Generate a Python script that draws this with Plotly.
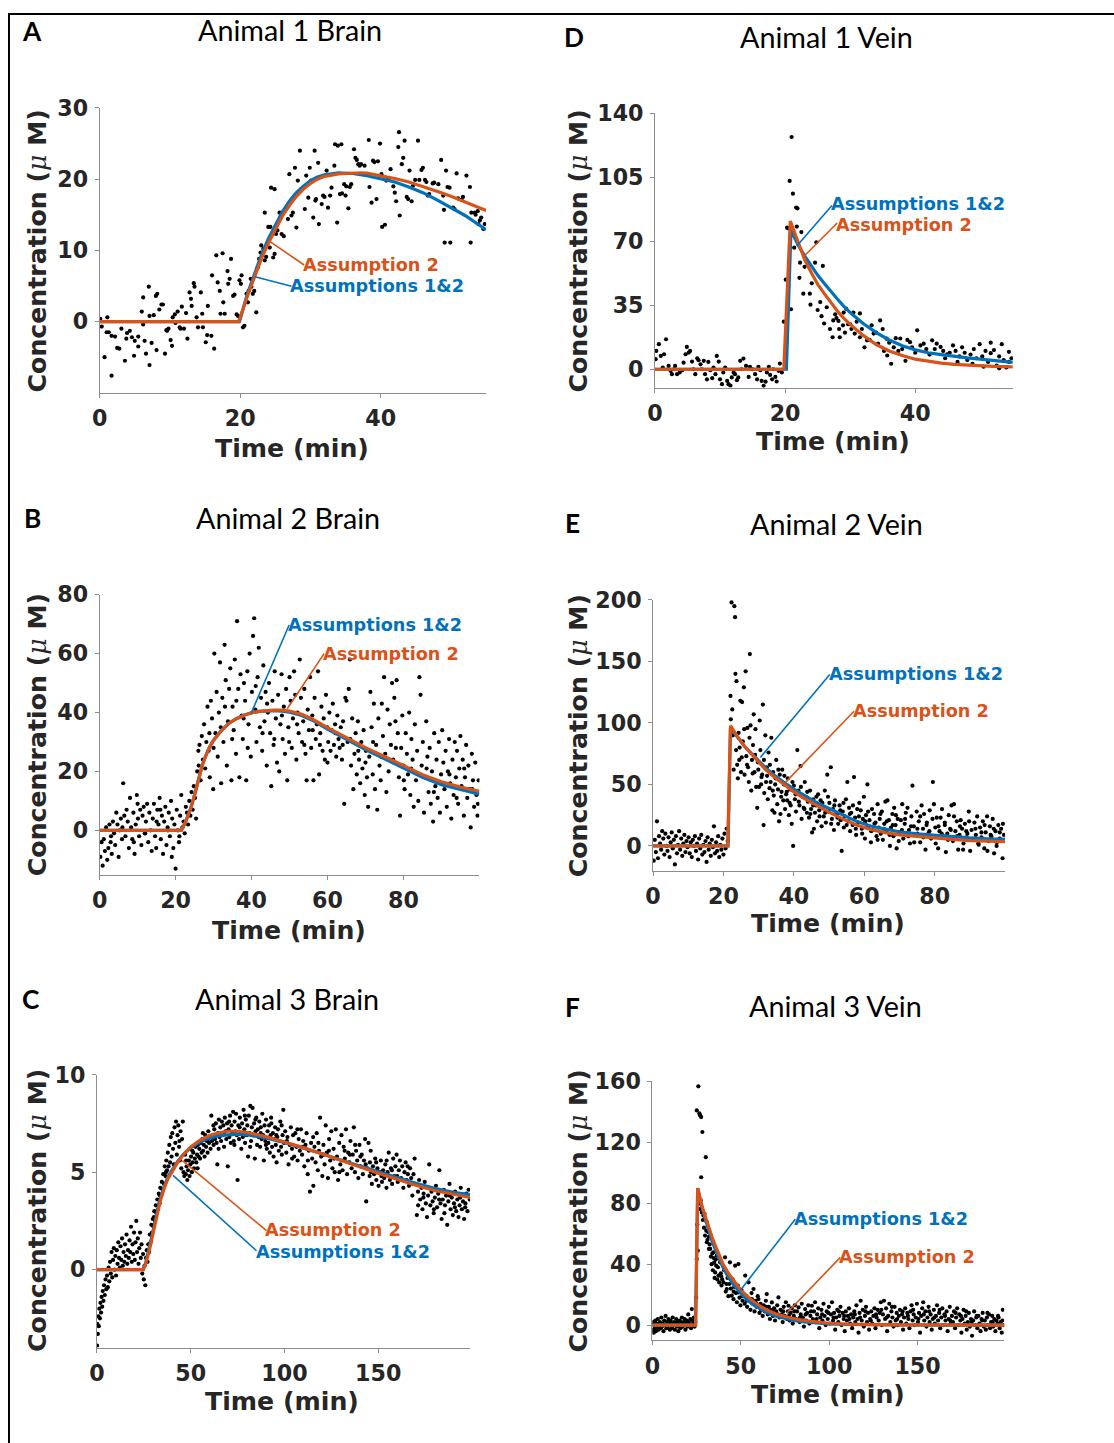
import plotly.graph_objects as go

# Figure canvas; page positions (in page pixels) are
# mapped into the canvas with the offset/scale the page photograph applies.
FW, FH = 1114, 1443
OX, OY, SC = 8.5, 12.0, 0.9915
BLUE = "#0072BD"
ORANGE = "#D95319"
AXC = "#8c8c8c"
TXT = "#262626"

# ---------------- data ----------------
# Panel A: Animal 1 Brain  [time (min), concentration (uM)]
a_points = [[0.1,0.4],[0.3,-0.7],[0.7,-5.0],[1.1,0.6],[1.0,-1.5],[1.3,-1.5],[1.7,-2.0],[1.7,-7.6],[2.2,-2.1],[2.5,-3.7],[2.8,-3.8],[3.1,-1.0],[3.6,-5.5],[3.8,-2.4],[3.9,-1.6],[4.3,-1.3],[4.6,-2.2],[5.0,-2.7],[4.9,-4.8],[5.5,-2.1],[5.5,-3.5],[6.0,1.4],[6.2,3.4],[6.2,-0.4],[6.4,-2.7],[6.6,-4.5],[7.0,4.9],[7.1,-6.1],[7.1,0.8],[7.4,-3.0],[7.7,0.9],[8.0,3.6],[8.2,3.9],[8.1,-4.0],[8.5,1.7],[8.8,2.4],[9.0,2.4],[9.3,-4.5],[9.5,-1.2],[9.6,-1.3],[9.8,-1.0],[10.1,-2.6],[10.3,-3.4],[10.4,0.6],[10.7,1.0],[10.8,-0.2],[11.1,1.4],[11.4,-0.8],[11.5,-1.0],[11.7,2.1],[12.0,-1.0],[12.3,1.2],[12.5,-2.4],[12.8,4.1],[13.0,3.2],[13.1,2.2],[13.4,5.4],[13.5,4.9],[13.8,0.6],[14.0,-0.8],[14.4,4.1],[14.6,1.1],[14.7,-0.8],[15.1,-2.9],[15.3,-1.9],[15.4,2.2],[15.9,-2.0],[16.0,6.5],[16.3,-3.8],[16.6,9.3],[16.8,5.5],[17.1,4.3],[17.2,1.1],[17.5,9.6],[17.6,2.7],[17.8,1.1],[18.2,7.1],[18.3,5.3],[18.5,6.0],[18.7,8.8],[19.0,3.6],[19.2,3.8],[19.5,1.0],[19.7,0.8],
[19.9,5.8],[20.1,5.3],[20.2,6.5],[20.4,-0.8],[20.6,-0.6],[20.9,3.9],[21.1,2.7],[21.2,4.3],[21.6,4.9],[21.5,6.0],[21.8,3.9],[22.0,4.3],[22.3,1.3],[22.5,7.6],[22.7,8.8],[22.9,9.7],[23.0,10.7],[23.3,10.2],[23.5,8.6],[23.5,15.3],[23.7,9.1],[24.0,13.3],[24.2,10.4],[24.3,13.3],[24.7,9.0],[24.9,9.5],[25.1,12.3],
[24.4,18.8],[24.9,18.6],[25.3,12.8],[25.6,15.3],[25.9,12.3],[26.2,12.0],[26.6,16.0],[26.8,14.4],[27.0,20.7],[27.3,14.9],[27.5,15.3],[27.8,21.6],[28.0,13.2],[28.2,19.8],[28.5,24.0],[28.7,18.6],[29.2,15.8],[29.4,20.5],[29.7,17.4],[29.9,21.6],[30.1,19.8],[30.4,14.6],[30.6,24.0],[30.7,17.0],[30.8,17.2],[31.1,22.3],[31.2,13.7],[31.6,16.5],[31.8,17.7],[32.0,17.5],[32.3,21.2],[32.5,16.0],[32.8,17.7],[33.0,18.8],[33.4,21.9],[33.5,24.9],[33.8,13.9],[33.9,24.7],[34.2,17.9],[34.4,24.9],[34.5,18.0],[34.8,19.3],[35.0,17.7],[35.1,19.0],[35.4,15.9],[35.6,18.9],[35.8,19.3],[36.2,24.2],[36.4,23.0],[36.6,22.7],[36.8,22.1],[37.0,21.9],[37.2,22.1],[37.5,20.7],[37.7,21.9],[38.3,25.5],[38.4,18.9],[38.7,16.7],[38.9,22.6],[39.1,22.4],[39.4,17.2],[39.6,22.5],[39.9,25.0],
[40.1,20.7],[40.2,13.3],[40.6,13.6],[40.8,19.8],[41.1,20.0],[41.4,21.4],[41.8,19.0],[42.0,18.1],[42.2,16.9],[42.5,24.5],[42.6,26.6],[42.7,14.9],[43.0,22.1],[43.2,23.0],[43.4,25.4],[43.7,17.5],[43.9,17.2],[44.1,21.2],[44.4,16.9],[44.6,19.1],[44.9,19.9],[45.3,25.4],[45.5,19.9],[45.8,21.3],[46.0,21.6],[46.3,19.9],[46.5,19.6],[46.7,17.7],[46.9,17.9],[47.4,19.4],[47.6,19.5],[48.2,19.3],[48.6,22.7],[48.9,17.7],[49.0,15.7],[49.3,21.2],[49.5,18.9],[49.8,18.8],[49.1,11.1],[49.9,11.1],[50.3,16.0],[50.5,15.8],[50.8,20.8],[51.0,17.3],[51.5,17.1],[51.7,17.5],[52.2,20.5],[52.7,18.9],[52.8,11.1],[52.9,15.3],[53.4,15.3],[53.5,15.0],[53.8,15.5],[53.9,13.7],[54.1,14.2],[54.3,14.6],[54.6,13.0],[54.8,13.7]]
a_fit12_t = [0, 19.9, 21, 22, 23, 24, 25, 26, 27, 28, 29, 30, 31, 32, 34, 36, 38, 40, 42, 44, 46, 48, 50, 52, 55]
a_fit12_c = [0, 0, 3.8, 6.6, 9.3, 11.6, 13.6, 15.4, 16.9, 18.1, 19.0, 19.8, 20.3, 20.6, 20.9, 20.8, 20.5, 20.1, 19.6, 18.9, 18.1, 17.1, 16.0, 14.9, 12.9]
a_fit2_t = [0, 19.8, 21, 22, 23, 24, 25, 26, 27, 28, 29, 30, 31, 32, 34, 36, 37.2, 38, 40, 42, 44, 46, 48, 50, 52, 55]
a_fit2_c = [0, 0, 3.5, 6.2, 8.8, 11.0, 13.0, 14.8, 16.3, 17.6, 18.6, 19.4, 20.0, 20.4, 20.75, 20.9, 20.9, 20.85, 20.5, 20.1, 19.6, 19.0, 18.3, 17.6, 16.8, 15.6]
a_xticks = [0, 20, 40]
a_yticks = [0, 10, 20, 30]

# Panel D: Animal 1 Vein
d_points = [[0.1,5.5],[0.2,10],[0.6,13.7],[0.9,7.3],[1.2,0.9],[1.4,8.2],[1.7,16.4],[2.1,1.8],[2.4,-0.9],[2.6,-2.7],[2.9,0],[3.1,1.8],[3.4,-2.7],[3.8,-1.8],[4.2,-0.5],[4.4,3.6],[4.7,8.2],[4.9,12.2],[5.2,9.1],[5.4,10],[5.7,4.2],[5.9,0],[6.2,-2.7],[6.5,6],[6.7,4.9],[7.0,2.7],[7.2,0],[7.5,4.6],[7.7,-2.7],[8.0,-5.5],[8.2,4.0],[8.5,-0.5],[8.8,-4.9],[9.0,0.9],[9.3,-2.7],[9.5,7.3],[9.8,4.2],[10.0,-5.5],[10.3,-8.2],[10.5,-1.8],[10.8,0.9],[11.1,-6.4],[11.3,-8.2],[11.6,-9.0],[11.8,-4.5],[12.1,-1.8],[12.3,-2.7],[12.6,-6.0],[12.8,-4.5],[13.1,4.6],[13.3,0],[13.6,5.8],[14.0,1.8],[14.4,-4.2],[14.6,1.3],[15.0,0],[15.4,-2.7],[15.7,-5.5],[15.9,1.3],[16.2,-0.5],[16.4,-6.4],[16.7,-9.1],[17.0,-6.8],[17.2,-1.8],[17.5,1.3],[17.7,-3.1],[18.0,-5.5],[18.2,0],[18.5,-4.2],[18.7,-6.7],[19.0,-0.9],[19.2,3.1],[19.5,-1.8],
[19.8,26],[20.1,49],[20.3,77.4],[20.5,77],[20.7,103],[20.9,32.8],[21.0,127],[21.2,96],[21.4,66.5],[21.7,88.4],[21.9,88],[21.8,78],[22.5,75],[22.3,58.3],[22.2,50],[22.8,41.3],[23.0,56],[23.8,41.3],[24.1,47],[23.9,35.3],[24.6,58.3],[24.8,69.4],[25.0,32.4],[25.4,36.7],[25.6,29],[25.8,56.5],[26.0,25],[26.4,33.9],[26.9,22],[27.4,26.7],[27.3,17.5],[27.7,30],[27.9,28],[28.2,26.4],[28.4,17.5],[28.3,22],[28.9,24],[29.0,31],[29.2,20],[29.4,33],[29.7,24.6],[30.0,24.6],[30.2,22],[30.5,31],[30.7,19.5],[31.0,26],[31.5,30.5],[31.5,17.5],[31.8,22],[32.2,12],[32.6,15.8],[33.0,16],[33.3,24],[33.6,19.5],[34.0,20],[34.3,14],[34.6,26.7],[35.0,22],[35.2,10],[35.6,16.7],[35.7,7.5],[36.0,14.5],[36.3,3],[36.7,12],[37.0,17],[37.4,10],[37.7,16.8],[38.0,11],[38.5,4.6],[38.8,16],[39.2,14.8],[39.5,12],[40.0,9],[40.3,21.3],[40.8,13],[41.3,14],[41.7,11],[42.2,8],[42.6,15.8],[43.0,11],[43.3,14],[43.9,12.2],[44.3,10],[44.6,6],[44.9,8.2],[45.3,9],[45.8,13],[46.2,10],[46.5,4],[46.8,7],[47.2,12],[47.6,9],[48.0,5],[48.5,8],[48.8,3],[49.0,11],[49.4,6],[49.9,13.7],[50.3,7],[50.5,1.4],[50.8,10],[51.2,4],[51.6,14.5],[51.6,8.8],[52.1,10.5],[52.5,2],[52.9,7],[52.9,0.5],[53.3,13.7],[53.6,5],[54.0,1],[54.4,9.5],[54.4,4],[54.8,6]]
d_fit12_t = [0, 20.2, 20.9, 22, 23, 24, 25, 26, 27, 28, 29, 30, 32, 34, 36, 38, 40, 42, 44, 46, 48, 50, 52, 55]
d_fit12_c = [0, 0, 76, 68, 62, 56.5, 51.5, 47, 42.5, 38.5, 34.5, 31, 25, 20, 16, 12.8, 10.6, 9, 8, 7, 6.2, 5.5, 4.7, 3.7]
d_fit2_t = [0, 19.8, 20.8, 22, 23, 24, 25, 26, 27, 28, 29, 30, 32, 34, 36, 38, 40, 42, 44, 46, 48, 50, 52, 55]
d_fit2_c = [0, 0, 81, 69, 60, 53, 46.5, 41.5, 36.5, 32, 28, 24.5, 18.5, 13.5, 10, 7.5, 5.5, 4.3, 3.3, 2.7, 2.2, 1.9, 1.6, 1.3]
d_xticks = [0, 20, 40]
d_yticks = [0, 35, 70, 105, 140]

# Panel B: Animal 2 Brain
b_points = [[0.2,-9],[0.5,-4],[0.8,-12],[1.1,-3],[1.4,-7],[1.7,1],[2.0,-10],[2.3,-6],[2.6,2],[2.9,-4],[3.2,-8],[3.5,3],[3.8,-1],[4.1,-5],[4.4,6],[4.7,2],[5.0,-9],[5.3,0],[5.6,4],[5.9,-3],[6.2,16],[6.5,5],[6.8,-2],[7.1,7],[7.4,3],[7.7,-6],[8.0,11],[8.3,1],[8.6,-3],[8.9,6],[9.2,-8],[9.5,2],[9.8,12],[10.1,4],[10.4,-2],[10.7,7],[11.0,-5],[11.3,5],[11.6,8],[11.9,-1],[12.2,3],[12.5,9],[12.8,-4],[13.1,6],[13.4,0],[13.7,-7],[14.0,4],[14.3,9],[14.6,-2],[14.9,-6],[15.2,7],[15.5,2],[15.8,11],[16.1,-3],[16.4,5],[16.7,-8],[17.0,3],[17.3,8],[17.6,-5],[17.9,1],[18.2,6],[18.5,-2],[18.8,10],[19.1,4],[19.4,-6],[19.7,2],[20.0,-13],[20.3,7],[20.6,0],[20.9,-4],[21.2,5],[21.5,12],[21.8,1],
[3.0,-2],[6.0,1],[9.0,-4],[12.0,-1],[15.0,3],[18.0,0],[21.0,-2],[10.0,9],[16.0,7],[19.0,-9],
[22.1,3],[22.4,-1],[22.7,8],[23.0,6],[23.3,2],[23.6,10],[23.9,5],[24.2,13],[24.5,7],[24.8,15],[25.1,11],[25.4,4],[25.7,20],[26.0,27],[26.3,29],[26.6,17],[26.9,32],[27.2,24],[27.5,36],
[27.8,21],[28.1,30],[28.4,42],[28.7,27],[29.0,18],[29.3,44],[29.6,38],[29.9,14],[30.2,60],[30.5,33],[30.8,47],[31.1,25],[31.4,40],[31.7,57],[32.0,16],[32.3,45],[32.6,30],[32.9,63],[33.2,51],[33.5,22],[33.8,37],[34.1,48],[34.4,55],[34.7,17],[35.0,42],[35.3,34],[35.6,58],[35.9,26],[36.2,71],[36.5,48],[36.8,18],[37.1,53],[37.4,39],[37.7,31],[38.0,50],[38.3,44],[38.6,17],[38.9,54],[39.2,36],[39.5,60],[39.8,25],[40.1,47],
[26.1,22],[28.9,33],[30.0,28],[31.9,35],[33.0,42],[34.9,31],[36.0,44],[37.9,38],[39.0,28],[41.1,49],[42.9,33],[44.1,43],[46.0,31],[48.0,39],[49.9,30],[52.0,36],[53.9,29],[56.1,34],[58.0,29],[60.0,23],[62.1,33],[64.0,29],[66.0,31],[68.1,27],[70.0,23],[72.0,30],[74.1,25],[76.0,24],[78.0,28],[80.1,17],[82.0,21],[84.0,19],[86.1,21],[88.0,13],[90.0,16],[92.1,19],[94.0,11],[96.0,21],[98.1,14],[99.6,9],
[40.4,66],[40.7,72],[41.0,41],[41.3,30],[41.6,52],[41.9,62],[42.2,35],[42.5,45],[42.8,27],[43.1,56],[43.4,37],[43.7,47],[44.0,22],[44.3,40],[44.6,50],[44.9,33],[45.2,15],[45.5,44],[45.8,29],[46.1,54],[46.4,38],[46.7,23],[47.0,46],[47.3,20],[47.6,36],[47.9,53],[48.2,31],[48.5,42],[48.8,26],[49.1,48],[49.4,17],[49.7,35],[50.0,52],[50.3,44],[50.6,28],[50.9,38],[51.2,54],[51.5,46],[51.8,24],[52.1,40],[52.4,33],[52.7,58],[53.0,45],[53.3,30],[53.6,37],[53.9,48],[54.2,26],[54.5,17],[54.8,41],[55.1,34],[55.4,52],[55.7,28],[56.0,39],[56.3,17],[56.6,45],[56.9,31],[57.2,36],[57.5,54],[57.8,19],[58.1,33],[58.4,42],[58.7,27],[59.0,38],[59.3,24],[59.6,46],[59.9,35],
[60.2,30],[60.5,40],[60.8,27],[61.1,34],[61.4,43],[61.7,29],[62.0,36],[62.3,25],[62.6,39],[62.9,31],[63.2,28],[63.5,35],[63.8,24],[64.1,37],[64.4,9],[64.7,45],[65.0,44],[65.3,30],[65.6,48],[65.9,58],[66.2,22],[66.5,38],[66.8,14],[67.1,26],[67.4,33],[67.7,19],[68.0,37],[68.3,24],[68.6,16],[68.9,30],[69.2,21],[69.5,34],[69.8,12],[70.1,27],[70.4,18],[70.7,8],[71.0,25],[71.3,47],[71.6,35],[71.9,19],[72.2,43],[72.5,14],[72.8,29],[73.1,7],[73.4,38],[73.7,22],[74.0,17],[74.3,43],[74.6,32],[74.9,52],[75.2,26],[75.5,13],[75.8,41],[76.1,20],[76.4,36],[76.7,29],[77.0,50],[77.3,24],[77.6,45],[77.9,37],[78.2,51],[78.5,33],[78.8,18],[79.1,5],[79.4,28],[79.7,39],[80.0,22],[80.3,14],[80.6,33],[80.9,26],[81.2,19],[81.5,40],[81.8,12],[82.1,31],[82.4,24],[82.7,8],[83.0,36],[83.3,17],[83.6,27],[83.9,10],[84.2,52],[84.5,46],[84.8,22],[85.1,30],[85.4,6],[85.7,18],[86.0,37],[86.3,25],[86.6,13],[86.9,28],[87.2,9],[87.5,20],[87.8,3],[88.1,33],[88.4,15],[88.7,24],[89.0,11],[89.3,30],[89.6,6],[89.9,19],[90.2,34],[90.5,23],[90.8,14],[91.1,27],[91.4,8],[91.7,20],[92.0,31],[92.3,16],[92.6,4],[92.9,24],[93.2,12],[93.5,30],[93.8,18],[94.1,27],[94.4,9],[94.7,21],[95.0,32],[95.3,15],[95.6,24],[95.9,5],[96.2,18],[96.5,29],[96.8,11],[97.1,22],[97.4,14],[97.7,1],[98.0,26],[98.3,17],[98.6,8],[98.9,23],[99.2,12],[99.5,5],[99.8,17]]
b_fit12_t = [0, 21.5, 22.5, 24, 25, 26, 27, 28, 29, 30, 32, 34, 36, 38, 40, 42, 44, 46, 48, 50, 53, 56, 60, 65, 70, 75, 80, 85, 90, 95, 100]
b_fit12_c = [0, 0, 2.5, 7.5, 12, 17.5, 22, 25.5, 28.4, 30.6, 33.8, 36.3, 37.9, 39.1, 39.9, 40.4, 40.6, 40.6, 40.5, 40.1, 39.1, 37.4, 34.4, 30.8, 27.4, 24.3, 21.1, 18.0, 15.5, 13.8, 12.3]
b_fit2_t = [0, 21.5, 22.5, 24, 25, 26, 27, 28, 29, 30, 32, 34, 36, 38, 40, 42, 44, 46, 48, 50, 53, 56, 60, 65, 70, 75, 80, 85, 90, 95, 100]
b_fit2_c = [0, 0, 2.5, 7.5, 12, 17.5, 22, 25.5, 28.4, 30.6, 33.8, 36.3, 37.9, 39.1, 39.9, 40.4, 40.7, 40.8, 40.8, 40.5, 39.5, 37.8, 34.9, 31.4, 28.1, 25.1, 22.0, 18.9, 16.5, 14.7, 13.3]
b_xticks = [0, 20, 40, 60, 80]
b_yticks = [0, 20, 40, 60, 80]

# Panel E: Animal 2 Vein
e_points = [[0.2,-12],[0.5,5],[0.8,-5],[1.1,20],[1.4,-10],[1.7,8],[2.0,2],[2.3,-3],[2.6,12],[2.9,6],[3.2,-7],[3.5,10],[3.8,0],[4.1,-4],[4.4,7],[4.7,-9],[5.0,3],[5.3,11],[5.6,-2],[5.9,5],[6.2,-15],[6.5,8],[6.8,-6],[7.1,1],[7.4,12],[7.7,-3],[8.0,6],[8.3,-8],[8.6,2],[8.9,9],[9.2,-5],[9.5,4],[9.8,-1],[10.1,7],[10.4,-6],[10.7,3],[11.0,-9],[11.3,5],[11.6,0],[11.9,8],[12.2,-4],[12.5,2],[12.8,-11],[13.1,6],[13.4,-2],[13.7,9],[14.0,-7],[14.3,1],[14.6,-5],[14.9,4],[15.2,-13],[15.5,7],[15.8,-3],[16.1,2],[16.4,-8],[16.7,5],[17.0,-1],[17.3,16],[17.6,-6],[17.9,3],[18.2,-4],[18.5,8],[18.8,-9],[19.1,1],[19.4,-3],[19.7,6],[20.0,-7],[20.3,10],[20.6,-2],[20.9,14],[21.2,4],
[22.0,122],[22.1,103],[22.3,198],[22.5,111],[22.7,90],[22.9,62],[23.1,195],[23.3,186],[23.4,140],[23.6,78],[23.7,134],[23.9,66],[24.1,55],[24.3,92],[24.5,70],[24.8,118],[25.0,60],[25.3,117],[25.5,85],[25.8,129],[26.0,58],[26.3,142],[26.5,73],[26.8,96],[27.0,64],[27.2,52],[27.5,156],[27.7,98],[27.9,45],[28.1,70],[28.4,82],[28.6,107],[28.8,60],[29.1,95],[29.3,48],[29.6,31],[29.8,68],[30.1,48],[30.3,102],[30.5,78],[30.8,56],[31.0,58],[31.2,115],[31.4,17],[31.6,43],[31.9,90],[32.1,52],[32.3,64],[32.6,38],[32.8,76],[33.1,47],[33.4,52],[33.6,88],[33.9,29],[34.1,60],[34.3,41],[34.5,27],[34.8,55],[35.0,70],[35.3,34],[35.5,46],[35.8,20],[36.0,58],[36.2,26],[36.5,44],[36.7,62],[37.0,37],[37.2,50],[37.5,30],[37.8,42],[38.1,37],[38.3,55],[38.6,25],[38.9,46],[39.1,33],[39.4,18],[39.8,0],[40.0,49],[40.3,38],[40.6,28],[41.0,78],[41.3,45],[41.6,33],[41.9,65],[42.2,22],[42.5,40],[42.8,31],[43.1,52],[43.4,40],[43.7,27],[44.0,36],[44.3,23],[44.6,45],[44.9,30],[45.2,11],[45.5,38],[45.7,14],[46.0,27],[46.3,33],[46.6,20],[46.9,42],[47.2,29],[47.6,37],[47.9,16],[48.2,31],[48.5,24],[48.8,45],[49.1,19],[49.5,58],[49.8,28],[50.1,35],[50.5,64],[50.8,22],[51.1,30],[51.4,13],[51.7,37],[52.0,26],[52.3,26],[52.6,18],[53.0,33],[53.3,21],[53.6,-4],[53.9,28],[54.2,15],[54.5,24],[54.8,38],[55.2,52],[55.5,20],[55.7,31],[56.0,12],[56.3,27],[56.7,17],[57.1,56],[57.4,23],[57.7,9],[58.0,30],[58.3,19],[58.6,35],[59.0,29],[59.3,14],[59.6,22],[59.9,40],[60.2,6],[60.5,25],[60.9,50],[61.2,16],[61.5,21],[61.9,3],[62.2,30],[62.5,13],[62.8,26],[63.2,19],[63.5,8],[63.8,34],[64.1,15],[64.4,22],[64.7,10],[65.0,28],[65.3,5],[65.7,18],[66.0,36],[66.3,12],[66.6,37],[67.0,21],[67.3,0],[67.6,15],[68.0,26],[68.3,8],[68.5,31],[68.9,17],[69.2,-2],[69.5,22],[69.9,11],[70.4,21],[70.8,34],[71.1,6],[71.5,18],[71.8,27],[72.3,31],[72.7,13],[73.0,2],[73.4,24],[73.7,49],[74.1,16],[74.5,9],[74.9,28],[75.1,10],[75.5,20],[75.9,3],[76.3,33],[76.7,14],[77.0,26],[77.4,-3],[77.8,19],[78.2,10],[78.6,29],[79.0,6],[79.5,52],[79.8,34],[80.2,15],[80.6,23],[81.0,-2],[81.4,12],[81.7,23],[82.1,30],[82.5,8],[82.9,17],[83.2,-5],[83.6,10],[84.0,25],[84.4,14],[84.8,33],[85.2,4],[85.5,34],[85.9,12],[86.3,20],[86.7,-3],[87.1,9],[87.4,21],[87.8,14],[88.2,2],[88.6,18],[89.0,7],[89.3,10],[89.7,28],[90.1,-4],[90.5,13],[90.9,5],[91.3,19],[91.7,9],[92.1,24],[92.5,1],[92.9,15],[93.3,7],[93.7,20],[94.1,-2],[94.5,11],[94.9,24],[95.3,4],[95.7,16],[96.1,8],[96.5,22],[96.9,-6],[97.3,12],[97.7,3],[98.1,17],[98.5,6],[98.9,14],[99.3,-10],[99.7,9],
[24.6,80],[25.2,72],[25.9,95],[26.7,66],[27.4,88],[28.3,59],[29.0,74],[29.9,62],[30.7,50],[31.5,70],[32.4,57],[33.2,66],[34.0,45],[34.7,50],[35.6,62],[36.4,40],[37.3,57],[38.0,44],[38.8,35],[39.6,52],[40.5,42],[41.4,36],[42.0,48],[43.0,30],[43.8,44],[44.7,26],[45.5,33],[46.4,40],[47.3,24],[48.1,35],[48.9,27],[49.7,40],[50.6,18],[51.5,33],[52.4,23],[53.2,29],[54.1,35],[55.0,17],[55.9,26],[56.8,33],[57.6,14],[58.5,24],[59.4,10],[60.3,20],[61.1,28],[62.0,12],[62.9,18],[63.8,5],[64.6,26],[65.5,14],[66.4,20],[67.2,9],[68.1,17],[69.0,25],[69.8,4],[70.7,13],[71.6,22],[72.5,8],[73.3,16],[74.2,3],[75.1,14],[75.9,24],[76.8,7],[77.7,17],[78.5,12],[79.4,22],[80.3,2],[81.1,16],[82.0,10],[82.9,19],[83.8,5],[84.6,13],[85.5,24],[86.4,8],[87.2,16],[88.1,-3],[89.0,12],[89.8,20],[90.7,6],[91.6,14],[92.4,2],[93.3,11],[94.2,17],[95.0,-4],[95.9,9],[96.8,14],[97.6,0],[98.5,11],[99.4,18]]
e_fit12_t = [0, 21.3, 22, 23, 24, 26, 28, 30, 32, 34, 36, 38, 40, 43, 46, 50, 54, 58, 62, 66, 70, 75, 80, 85, 90, 95, 100]
e_fit12_c = [0, 0, 96, 92, 88.5, 81, 75, 69, 63.5, 58.5, 54, 50, 46.3, 41, 36, 30.5, 25.3, 19.8, 16, 13.5, 11.5, 9.8, 8.5, 7.5, 6.5, 5.8, 5.3]
e_fit2_t = [0, 21.2, 22, 23, 24, 26, 28, 30, 32, 34, 36, 38, 40, 43, 46, 50, 54, 58, 62, 66, 70, 75, 80, 85, 90, 95, 100]
e_fit2_c = [0, 0, 97.8, 93, 89, 81, 74.5, 68, 62, 57, 52.5, 48, 44, 38.5, 33.5, 27.5, 21.8, 16.8, 13.3, 10.8, 9.0, 7.6, 6.3, 5.3, 4.4, 3.8, 3.5]
e_xticks = [0, 20, 40, 60, 80]
e_yticks = [0, 50, 100, 150, 200]

# Panel C: Animal 3 Brain
c_points = [[0.1,-3.9],[0.3,-2.8],[0.5,-3.3],[0.8,-2.4],[1.0,-2.9],[1.3,-2.0],[1.6,-2.5],[1.9,-1.7],[2.2,-2.2],[2.5,-1.4],[2.8,-1.9],[3.1,-1.1],[3.5,-1.6],[3.8,-0.8],[4.2,-1.3],[4.6,-0.5],[5.0,-1.0],[5.4,-0.3],[5.8,-0.9],[6.2,0.1],[6.6,-0.6],[7.0,0.4],[7.4,-0.2],[7.8,0.9],[8.2,-0.4],[8.6,0.5],[9.0,1.1],[9.4,0.0],[9.8,0.7],[10.2,-0.3],[10.6,1.0],[11.0,0.3],[11.4,1.4],[11.8,0.6],[12.2,0.1],[12.6,1.2],[13.0,0.5],[13.4,1.6],[13.8,0.2],[14.2,0.9],[14.6,0.4],[15.0,1.3],[15.4,0.7],[15.8,1.8],[16.2,0.3],[16.6,1.0],[17.0,0.6],[17.4,1.5],[17.8,0.9],[18.2,2.2],[18.6,0.4],[19.0,1.3],[19.4,0.8],[19.8,1.9],[20.2,0.5],[20.6,1.4],[21.0,2.5],[21.4,0.9],[21.8,1.6],[22.2,0.3],[22.6,1.1],[23.0,1.9],[23.4,0.6],[23.8,1.3],[24.2,-0.2],[24.6,0.8],[25.0,-0.5],[25.4,0.2],[25.8,-0.8],
[26.2,0.6],[26.6,1.0],[27.0,0.4],[27.4,1.3],[27.8,0.9],[28.2,1.8],[28.6,1.4],[29.0,2.3],[29.4,1.9],[29.8,2.6],[30.2,2.2],[30.6,3.0],[31.0,2.5],[31.4,3.3],[31.8,2.9],[32.2,3.6],[32.6,3.1],[33.0,3.9],[33.4,3.4],[33.8,4.2],[34.2,3.8],[34.6,4.5],[35.0,4.1],[35.4,4.9],[35.8,4.4],[36.2,5.3],[36.6,4.8],[37.0,5.6],[37.4,5.1],[37.8,6.0],[38.2,5.3],[38.6,6.4],[39.0,5.5],[39.4,6.8],[39.8,5.8],[40.2,7.0],[40.6,6.2],[41.0,5.4],[41.4,7.3],[41.8,6.5],[42.2,7.6],[42.6,5.9],[43.0,6.9],[43.4,7.4],[43.8,6.3],[44.2,5.6],[44.6,7.1],[45.0,5.2],[45.4,6.7],[45.8,7.6],[46.2,5.0],[46.6,4.8],[47.0,5.9],[47.4,4.9],[47.8,5.3],[48.2,4.6],[48.6,5.1],[49.0,5.6],[49.4,4.8],[49.8,5.4],[50.2,5.8],[50.6,5.0],[51.0,5.5],[51.4,6.0],[51.8,5.2],[52.2,5.7],[52.6,6.3],[53.0,5.5],[53.4,5.9],[53.8,6.4],[54.2,5.8],[54.6,6.2],[55.0,5.7],[55.4,6.5],[55.8,6.0],[56.2,6.7],[56.6,6.1],[57.0,6.4],[57.4,5.8],[57.8,6.9],[58.2,6.3],[58.6,6.6],[59.0,6.0],[59.4,7.1],[59.8,6.5],[60.2,6.8],[60.6,6.2],[61.0,7.9],[61.4,6.6],[61.8,6.9],[62.2,6.4],[62.6,7.2],[63.0,6.7],[63.4,7.5],[63.8,6.5],[64.2,5.4],[64.6,7.0],[65.0,7.7],[65.4,6.8],[65.8,7.3],[66.2,6.6],[66.6,7.6],[67.0,6.9],[67.4,7.4],[67.8,6.3],[68.2,7.8],[68.6,7.1],[69.0,6.7],[69.4,7.5],[69.8,5.3],[70.2,7.2],[70.6,6.8],[71.0,7.9],[71.4,6.5],[71.8,7.4],[72.2,7.0],[72.6,8.1],[73.0,6.6],[73.4,7.6],[73.8,7.1],[74.2,8.0],[74.6,6.9],[75.0,4.6],[75.4,7.4],[75.8,6.7],[76.2,7.8],[76.6,7.0],[77.0,6.2],[77.4,7.5],[77.8,6.8],[78.2,8.2],[78.6,7.2],[79.0,6.5],[79.4,7.7],[79.8,6.9],[80.2,7.4],[80.6,5.8],[81.0,7.9],[81.4,7.0],[81.8,8.4],[82.2,6.6],[82.6,7.3],[83.0,8.3],[83.4,6.9],[83.8,7.5],[84.2,5.7],[84.6,7.1],[85.0,7.8],[85.4,6.4],[85.8,7.2],[86.2,6.8],[86.6,7.6],[87.0,6.3],[87.4,7.3],[87.8,6.7],[88.2,8.0],[88.6,6.9],[89.0,5.6],[89.4,7.4],[89.8,6.6],[90.2,7.7],[90.6,6.2],[91.0,7.1],[91.4,6.5],[91.8,7.4],[92.2,6.0],[92.6,6.9],[93.0,7.5],[93.4,6.3],[93.8,7.0],[94.2,5.8],[94.6,6.7],[95.0,7.3],[95.4,6.4],[95.8,5.5],[96.2,6.8],[96.6,7.2],[97.0,6.1],[97.4,6.6],[97.8,7.6],[98.2,6.3],[98.6,5.9],[99.0,6.9],[99.4,8.2],[99.8,6.5],
[100.4,7.1],[101.0,6.0],[101.6,6.8],[102.2,5.4],[102.8,6.4],[103.4,7.3],[104.0,6.2],[104.6,6.9],[105.2,5.8],[105.8,7.0],[106.4,6.3],[107.0,5.6],[107.6,6.7],[108.2,6.1],[108.8,7.2],[109.4,5.9],[110.0,6.6],[110.6,5.3],[111.2,6.4],[111.8,7.0],[112.4,4.9],[113.0,6.1],[113.6,4.0],[114.2,6.5],[114.8,5.7],[115.4,4.3],[116.0,6.3],[116.6,5.5],[117.2,7.0],[117.8,5.1],[118.4,6.1],[119.0,7.8],[119.6,5.8],[120.2,4.8],[120.8,6.4],[121.4,5.4],[122.0,7.4],[122.6,6.0],[123.2,4.7],[123.8,6.7],[124.4,5.6],[125.0,7.1],[125.6,5.2],[126.2,6.2],[126.8,5.0],[127.4,7.2],[128.0,5.8],[128.6,4.6],[129.2,6.5],[129.8,5.4],[130.4,6.9],[131.0,5.1],[131.6,6.3],[132.2,5.7],[132.8,7.2],[133.4,4.9],[134.0,6.0],[134.6,5.5],[135.2,6.6],[135.8,5.2],[136.4,5.9],[137.0,7.3],[137.6,5.0],[138.2,6.1],[138.8,5.6],[139.4,4.7],[140.0,6.4],[140.6,5.3],[141.2,5.9],[141.8,4.9],[142.4,5.6],[143.0,6.7],[143.6,3.5],[144.2,5.2],[144.8,6.5],[145.4,4.8],[145.6,5.5],[146.0,6.1],[146.6,4.4],[147.2,5.3],[147.8,4.9],[148.4,5.7],[149.0,4.6],[149.6,5.2],[150.2,4.3],[150.8,5.0],[151.4,5.6],[152.0,4.5],[152.6,5.1],[153.2,4.7],[153.8,5.4],[154.4,4.2],[155.0,5.0],[155.6,6.0],[156.2,4.6],[156.8,5.2],[157.4,4.4],[158.0,5.7],[158.6,4.8],[159.2,5.3],[159.8,5.9],[160.4,4.5],[161.0,5.1],[161.6,5.6],[162.2,4.7],[162.8,5.3],[163.4,4.2],[164.0,5.0],[164.6,5.5],[165.2,4.6],[165.8,4.9],[166.4,4.3],[167.0,5.2],[167.6,4.7],[168.2,3.8],[168.8,4.9],[169.4,5.7],[170.0,4.4],[170.6,2.8],[171.2,4.0],[171.8,4.6],[172.4,3.6],[173.0,4.2],[173.6,3.1],[174.2,3.9],[174.8,4.5],[175.4,3.4],[176.0,2.7],[176.6,3.8],[177.2,5.4],[177.8,3.3],[178.4,4.0],[179.0,3.5],[179.6,2.9],[180.2,3.7],[180.8,4.3],[181.4,3.2],[182.0,3.9],[182.6,5.1],[183.2,3.4],[183.8,2.6],[184.4,3.6],[185.0,4.1],[185.6,3.3],[186.2,3.8],[186.8,2.3],[187.4,3.5],[188.0,4.4],[188.6,3.1],[189.2,3.7],[189.8,2.8],[190.4,3.4],[191.0,4.0],[191.6,3.0],[192.2,3.6],[192.8,2.7],[193.4,3.3],[194.0,4.2],[194.6,3.1],[195.2,3.5],[195.8,2.6],[196.4,3.2],[197.0,3.9],[197.6,3.0],[198.2,4.1],
[50.9,6.1],[53.7,5.2],[56.5,7.0],[59.3,6.7],[62.1,7.4],[64.9,6.2],[67.7,7.0],[70.5,7.6],[73.3,6.4],[76.1,7.3],[78.9,7.9],[81.7,6.3],[84.5,7.7],[87.3,7.0],[90.1,6.4],[92.9,7.8],[95.7,6.9],[98.5,7.4],[101.3,6.6],[104.1,5.7],[106.9,7.2],[109.7,6.3],[112.5,5.6],[115.3,6.8],[118.1,6.5],[120.9,5.9],[123.7,6.1],[126.5,5.7],[129.3,5.0],[132.1,6.1],[134.9,5.9],[137.7,6.4],[140.5,5.8],[143.3,5.4],[146.1,5.0],[148.9,5.5],[151.7,4.8],[154.5,5.6],[157.3,5.1],[160.1,4.8],[162.9,4.6],[165.7,5.3],[168.5,4.4],[171.3,3.3],[174.1,3.7],[176.9,4.2],[179.7,3.1],[182.5,3.6],[185.3,2.9],[188.1,3.8],[190.9,3.2],[193.7,3.7],[196.5,3.4],[198.8,3.6],[30.4,2.7],[33.6,3.8],[36.8,5.0],[44.0,6.6],[47.6,5.6],[49.6,6.2]]
c_fit12_t = [0, 24.6, 26, 28, 30, 32, 34, 36, 38, 40, 43, 46, 50, 55, 60, 65, 70, 75, 80, 90, 100, 110, 120, 130, 140, 150, 160, 170, 180, 190, 199]
c_fit12_c = [0, 0, 0.35, 1.1, 2.0, 2.9, 3.7, 4.3, 4.8, 5.1, 5.55, 5.9, 6.25, 6.55, 6.75, 6.88, 6.93, 6.95, 6.92, 6.76, 6.53, 6.25, 5.95, 5.63, 5.33, 5.02, 4.72, 4.43, 4.17, 3.97, 3.85]
c_fit2_t = [0, 24.8, 26, 28, 30, 32, 34, 36, 38, 40, 43, 46, 50, 55, 60, 65, 70, 75, 80, 90, 100, 110, 120, 130, 140, 150, 160, 170, 180, 190, 199]
c_fit2_c = [0, 0, 0.3, 1.0, 1.9, 2.8, 3.6, 4.2, 4.7, 5.0, 5.5, 5.9, 6.3, 6.65, 6.88, 7.02, 7.1, 7.1, 7.05, 6.83, 6.56, 6.26, 5.95, 5.6, 5.28, 4.95, 4.62, 4.33, 4.06, 3.85, 3.7]
c_xticks = [0, 50, 100, 150]
c_yticks = [0, 5, 10]

# Panel F: Animal 3 Vein
f_points = [[0.2,-3],[0.5,2],[0.8,-5],[1.1,0],[1.4,-2],[1.7,3],[2.0,-4],[2.3,1],[2.7,-1],[3.1,4],[3.5,-3],[3.9,0],[4.3,2],[4.7,-2],[5.1,5],[5.5,-1],[5.9,1],[6.3,-4],[6.7,3],[7.1,0],[7.5,6],[7.9,-2],[8.3,2],[8.7,-1],[9.1,4],[9.5,0],[9.9,-3],[10.3,3],[10.7,1],[11.1,-2],[11.5,5],[11.9,0],[12.3,2],[12.7,-3],[13.1,1],[13.5,4],[13.9,-1],[14.3,2],[14.7,-4],[15.1,0],[15.5,3],[15.9,-2],[16.3,1],[16.7,5],[17.1,-1],[17.5,2],[17.9,0],[18.3,4],[18.7,-3],[19.1,1],[19.5,3],[19.9,-1],[20.3,7],[20.7,2],[21.1,0],[21.5,4],[21.9,-2],[22.3,10.5],[22.7,3],[23.1,1],[23.5,5],[23.9,-1],[24.3,2],[10.0,1],[15.8,-1],[20.0,2],
[24.8,18],[25.1,43.4],[25.1,141],[25.4,66],[25.7,48.9],[26.0,156.8],[26.0,79.6],[26.3,85],[26.6,139],[27.0,137.7],[27.0,76.3],[27.3,82],[27.6,136.6],[27.6,97.1],[28.0,74],[28.3,126.8],[28.6,69],[28.9,71.9],[29.2,64],[29.5,73],[29.8,58.8],[30.2,110.3],[30.5,62],[30.8,67.5],[30.8,54.4],[31.2,56],[31.7,61],[32.0,50],[32.4,53],[32.7,50],[33.1,45],[33.5,40],[33.9,47],[34.2,36],[34.5,47.8],[34.9,41],[35.2,31],[35.5,34.6],[35.9,43],[36.4,45.6],[36.7,30],[37.1,38],[37.4,32.5],[37.8,28],[38.3,41.2],[38.7,34],[39.1,26],[39.5,30],[40.2,28.1],[40.6,36],[41.1,44.5],[41.5,22],[42.1,23.7],[42.5,31],[43.0,19],[43.5,27],[43.9,41.2],[44.4,24],[44.9,19.3],[45.4,30],[45.9,17],[46.3,25],[46.8,39],[47.3,21],[47.8,15],[48.3,26],[48.7,40.1],[48.7,21.5],[49.3,18],[49.8,13],[50.4,23],[51.0,16],[51.6,20],[52.2,14],[52.5,32.5],[53.0,19],[53.6,12],[54.4,28.1],[54.9,17],[55.5,10],[56.1,21],[56.7,14],[57.2,23.7],[57.8,9],[58.4,16],[59.0,12],[59.6,19],[60.0,17.1],
[31.9,58],[34.7,44],[36.1,39],[38.9,32],[41.9,27],[44.1,31],[46.0,22],[50.9,19],[53.3,16],[56.3,17],[58.9,14],[61.5,10],[64.5,12],[67.9,9],[71.0,7],[74.0,9],[77.3,6],[80.3,9],[83.6,5],[86.7,7],[89.7,9],[92.9,4],[96.0,7],[99.5,8],[102.5,5],[105.5,9],[108.5,6],[111.5,4],[114.5,7],[117.5,5],[120.5,9],[123.5,3],[126.5,7],[129.5,10],[132.5,5],[135.5,12],[138.5,4],[141.5,9],[144.5,6],[147.5,10],[150.5,4],[153.5,7],[156.5,9],[159.5,5],[162.5,10],[165.5,6],[168.5,3],[171.5,8],[174.5,6],[177.5,9],[180.5,2],[183.5,6],[186.5,3],[189.5,8],[192.5,2],[195.5,6],[198.0,3],
[60.6,8],[61.2,14],[61.8,11],[62.4,6],[63.0,13],[63.6,9],[64.2,16],[64.7,20.4],[65.3,7],[65.9,12],[66.5,4],[67.1,10],[67.6,14.9],[68.2,6],[68.8,11],[69.4,3],[70.0,9],[70.6,13],[71.3,18.2],[71.9,5],[72.5,10],[73.1,7],[73.7,2],[74.3,12],[74.9,6],[75.5,15],[76.1,4],[76.7,9],[77.0,12.7],[77.6,3],[78.2,8],[78.8,11],[79.4,1],[80.0,6],[80.6,13],[81.2,4],[81.8,9],[82.7,11.6],[83.3,2],[83.9,7],[84.5,14],[85.1,5],[85.7,-1],[86.4,10.5],[87.0,3],[87.6,8],[88.2,13],[88.8,1],[89.4,6],[90.2,12.7],[90.8,4],[91.4,9],[92.0,15],[92.6,2],[93.2,7],[93.8,11],[94.4,-2],[95.0,5],[95.6,10],[96.2,3],[96.8,14],[97.4,6],[98.0,0],[98.6,9],[99.2,4],[99.8,12],[100.4,1],[101.0,7],[101.6,15],[102.2,3],[102.8,8],[103.4,-3],[104.0,5],[104.6,10],[105.2,2],[105.8,6],[106.4,12],[107.0,0],[107.6,8],[108.2,4],[108.8,-4],[109.4,9],
[110.0,3],[110.6,6],[111.2,11],[111.8,1],[112.4,7],[113.0,-2],[113.6,5],[114.2,9],[114.8,2],[115.4,13],[116.0,4],[116.6,-5],[117.2,8],[117.8,16],[118.4,3],[119.0,10],[119.6,-1],[120.2,6],[120.8,12],[121.4,2],[122.0,8],[122.6,-3],[123.2,4],[123.8,9],[124.4,1],[125.0,6],[125.6,11],[126.2,-2],[126.8,5],[127.4,10],[128.0,3],[128.6,8],[129.2,15],[129.8,0],[130.4,7],[131.0,16],[131.6,4],[132.2,11],[132.8,-4],[133.4,6],[134.0,14],[134.6,2],[135.2,9],[135.8,5],[136.4,-1],[137.0,12],[137.6,3],[138.2,8],[138.8,0],[139.4,6],[140.0,10],[140.6,2],[141.2,7],[141.8,-3],[142.4,5],[143.0,11],[143.6,1],[144.2,8],[144.8,4],[145.4,-2],[146.0,9],[146.6,13],[147.2,3],[147.8,7],[148.4,0],[149.0,5],[149.6,14],[150.2,2],[150.8,8],[151.4,-5],[152.0,6],[152.6,11],[153.2,15],[153.8,3],[154.4,9],[155.0,-1],[155.6,5],[156.2,12],[156.8,2],[157.4,7],[158.0,-3],[158.6,4],[159.2,10],[159.8,1],[160.4,6],[161.0,13],[161.6,3],[162.2,8],[162.8,-2],[163.4,5],[164.0,11],[164.6,0],[165.2,7],[165.8,3],[166.4,9],[167.0,-4],[167.6,4],[168.2,12],[168.8,1],[169.4,6],[170.0,2],[170.6,9],[171.2,-2],[171.8,5],[172.4,11],[173.0,0],[173.6,7],[174.2,3],[174.8,-5],[175.4,4],[176.0,10],[176.6,1],[177.2,6],[177.8,-3],[178.4,2],[179.0,8],[179.6,-1],[180.2,4],[180.8,-7],[181.4,3],[182.0,9],[182.6,0],[183.2,5],[183.8,-2],[184.4,6],[185.0,1],[185.6,-4],[186.2,4],[186.8,8],[187.4,-1],[188.0,3],[188.6,-3],[189.2,5],[189.8,0],[190.4,7],[191.0,-2],[191.6,2],[192.2,6],[192.8,-1],[193.4,4],[194.0,-4],[194.6,3],[195.2,1],[195.8,5],[196.4,-2],[197.0,2],[197.6,-5],[198.2,10],[198.6,0]]
f_fit12_t = [0, 24.4, 25.6, 27, 28, 30, 32, 34, 36, 38, 40, 43, 46, 50, 54, 58, 62, 66, 70, 75, 80, 86, 92, 100, 110, 120, 140, 160, 180, 199]
f_fit12_c = [0, 0, 90, 82.5, 77.5, 69.5, 61.5, 54.5, 48.5, 43, 37.8, 31.5, 26.5, 20.8, 16.2, 12.6, 9.8, 7.6, 5.9, 4.3, 3.1, 2.1, 1.4, 0.8, 0.4, 0.2, 0.06, 0.02, 0.01, 0]
f_fit2_t = [0, 24.5, 25.7, 27, 28, 30, 32, 34, 36, 38, 40, 43, 46, 50, 54, 58, 62, 66, 70, 75, 80, 86, 92, 100, 110, 120, 140, 160, 180, 199]
f_fit2_c = [0, 0, 89.9, 83, 78.5, 71, 63.5, 57, 51, 45.5, 40, 34, 29, 23, 18.6, 14.8, 11.7, 9.2, 7.3, 5.6, 4.2, 3.0, 2.1, 1.2, 0.6, 0.35, 0.15, 0.08, 0.05, 0.03]
f_xticks = [0, 50, 100, 150]
f_yticks = [0, 40, 80, 120, 160]

# ---------------- layout (positions in page pixels) ----------------
panels = [
    dict(letter="A", title="Animal 1 Brain", pts=a_points, f12=(a_fit12_t, a_fit12_c), f2=(a_fit2_t, a_fit2_c),
         xr=[0, 55], yr=[-10, 30], xt=a_xticks, yt=a_yticks, xpx=(100, 486), ypx=(107, 392),
         letter_pos=(32.5, 30), title_pos=(289.7, 29.5), ylab_pos=(38, 250), xlab_pos=(292, 448),
         ann12=((22.1, 6.3), (27.3, 4.95)), ann2=((24.2, 11.26), (29.1, 7.95)), shift12=0, shift2=0),
    dict(letter="D", title="Animal 1 Vein", pts=d_points, f12=(d_fit12_t, d_fit12_c), f2=(d_fit2_t, d_fit2_c),
         xr=[0, 55], yr=[-10, 140], xt=d_xticks, yt=d_yticks, xpx=(654.6, 1012), ypx=(112.3, 386.7),
         letter_pos=(574, 36), title_pos=(826.4, 35.8), ylab_pos=(578.4, 250), xlab_pos=(832, 441),
         ann12=((21.8, 67.4), (27.2, 89.5)), ann2=((23.1, 62.5), (28.0, 80.0)), shift12=2, shift2=-2),
    dict(letter="B", title="Animal 2 Brain", pts=b_points, f12=(b_fit12_t, b_fit12_c), f2=(b_fit2_t, b_fit2_c),
         xr=[0, 100], yr=[-15, 80], xt=b_xticks, yt=b_yticks, xpx=(100, 479.3), ypx=(594, 874),
         letter_pos=(32.5, 517.5), title_pos=(288, 517), ylab_pos=(38, 734), xlab_pos=(289, 930),
         ann12=((39.9, 39.8), (49.9, 69.7)), ann2=((49.4, 41.3), (59.1, 60.0)), shift12=0, shift2=0),
    dict(letter="E", title="Animal 2 Vein", pts=e_points, f12=(e_fit12_t, e_fit12_c), f2=(e_fit2_t, e_fit2_c),
         xr=[0, 100], yr=[-20, 200], xt=e_xticks, yt=e_yticks, xpx=(652.7, 1004.2), ypx=(599.3, 870),
         letter_pos=(572, 522.5), title_pos=(836.3, 523), ylab_pos=(578.4, 735), xlab_pos=(827.3, 923),
         ann12=((30.5, 72), (50.2, 139.5)), ann2=((37.6, 51.7), (57.1, 109.5)), shift12=0, shift2=0),
    dict(letter="C", title="Animal 3 Brain", pts=c_points, f12=(c_fit12_t, c_fit12_c), f2=(c_fit2_t, c_fit2_c),
         xr=[0, 199], yr=[-4, 10], xt=c_xticks, yt=c_yticks, xpx=(97.3, 470), ypx=(1074.3, 1347.3),
         letter_pos=(31.7, 998.8), title_pos=(286.7, 998.3), ylab_pos=(38, 1210), xlab_pos=(282.5, 1400.8),
         ann12=((40.6, 4.84), (85.1, 0.97)), ann2=((45.6, 5.6), (90.4, 2.0)), shift12=-1, shift2=1),
    dict(letter="F", title="Animal 3 Vein", pts=f_points, f12=(f_fit12_t, f_fit12_c), f2=(f_fit2_t, f_fit2_c),
         xr=[0, 199], yr=[-10, 160], xt=f_xticks, yt=f_yticks, xpx=(652, 1003.4), ypx=(1081, 1340),
         letter_pos=(572, 1006.7), title_pos=(835, 1006), ylab_pos=(578.4, 1210.5), xlab_pos=(827.6, 1394),
         ann12=((49.6, 22.6), (80.8, 69.5)), ann2=((76.1, 7.9), (106.3, 44.5)), shift12=0, shift2=0),
]

def px2x(p):
    return ((p - OX) / SC) / FW

def py2y(p):
    return 1 - ((p - OY) / SC) / FH

FS = 1 / SC
TICKFONT = dict(family="DejaVu Sans", size=22 * FS, color=TXT, weight="bold")
LABFONT = dict(family="DejaVu Sans", size=25 * FS, color=TXT, weight="bold")
ANNFONT = 17.5 * FS
YLAB = "Concentration (<span style=\"font-family:'DejaVu Serif';font-weight:normal;font-style:italic\">μ</span> M)"

fig = go.Figure()
layout = dict(width=FW, height=FH, margin=dict(l=0, r=0, t=0, b=0),
              paper_bgcolor="white", plot_bgcolor="white", showlegend=False)
annotations = []
shapes = []

for i, p in enumerate(panels, start=1):
    xs = "x" if i == 1 else f"x{i}"
    ys = "y" if i == 1 else f"y{i}"
    xa = "xaxis" if i == 1 else f"xaxis{i}"
    ya = "yaxis" if i == 1 else f"yaxis{i}"

    t = [q[0] for q in p["pts"]]
    c = [q[1] for q in p["pts"]]
    fig.add_trace(go.Scatter(x=t, y=c, mode="markers", xaxis=xs, yaxis=ys,
                             marker=dict(color="black", size=4.2, line=dict(width=0)),
                             hoverinfo="skip"))
    fig.add_trace(go.Scatter(x=p["f12"][0], y=p["f12"][1], mode="lines", xaxis=xs, yaxis=ys,
                             line=dict(color=BLUE, width=3.2), hoverinfo="skip"))
    fig.add_trace(go.Scatter(x=p["f2"][0], y=p["f2"][1], mode="lines", xaxis=xs, yaxis=ys,
                             line=dict(color=ORANGE, width=3.2), hoverinfo="skip"))

    layout[xa] = dict(domain=[px2x(p["xpx"][0]), px2x(p["xpx"][1])], range=p["xr"], anchor=ys,
                      tickvals=p["xt"], ticktext=[str(v) for v in p["xt"]],
                      showline=True, linecolor=AXC, linewidth=1, ticks="outside", ticklen=4,
                      tickcolor=AXC, tickwidth=1, showgrid=False, zeroline=False,
                      tickfont=TICKFONT, ticklabelstandoff=2, fixedrange=True)
    layout[ya] = dict(domain=[py2y(p["ypx"][1]), py2y(p["ypx"][0])], range=p["yr"], anchor=xs,
                      tickvals=p["yt"], ticktext=[str(v) for v in p["yt"]],
                      showline=True, linecolor=AXC, linewidth=1, ticks="outside", ticklen=4,
                      tickcolor=AXC, tickwidth=1, showgrid=False, zeroline=False,
                      tickfont=TICKFONT, ticklabelstandoff=2, fixedrange=True)

    annotations.append(dict(text=p["letter"], x=px2x(p["letter_pos"][0]), y=py2y(p["letter_pos"][1]),
                            xref="paper", yref="paper", showarrow=False, xanchor="center", yanchor="middle",
                            font=dict(family="Lato", size=26 * FS, color="black", weight="bold")))
    annotations.append(dict(text=p["title"], x=px2x(p["title_pos"][0]), y=py2y(p["title_pos"][1]),
                            xref="paper", yref="paper", showarrow=False, xanchor="center", yanchor="middle",
                            font=dict(family="Lato", size=28.5 * FS, color="black")))
    annotations.append(dict(text=YLAB, x=px2x(p["ylab_pos"][0]), y=py2y(p["ylab_pos"][1]),
                            xref="paper", yref="paper", showarrow=False, xanchor="center", yanchor="middle",
                            textangle=-90, font=LABFONT))
    annotations.append(dict(text="Time (min)", x=px2x(p["xlab_pos"][0]), y=py2y(p["xlab_pos"][1]),
                            xref="paper", yref="paper", showarrow=False, xanchor="center", yanchor="middle",
                            font=LABFONT))

    for (start, end), col, label, sh in ((p["ann12"], BLUE, "Assumptions 1&2", p["shift12"]),
                                         (p["ann2"], ORANGE, "Assumption 2", p["shift2"])):
        shapes.append(dict(type="line", xref=xs, yref=ys, x0=start[0], y0=start[1], x1=end[0], y1=end[1],
                           line=dict(color=col, width=1.6)))
        annotations.append(dict(text=label, x=end[0], y=end[1], xref=xs, yref=ys, showarrow=False,
                                xanchor="left", yanchor="middle", xshift=-2, yshift=sh, borderpad=0,
                                font=dict(family="DejaVu Sans", size=ANNFONT, color=col, weight="bold")))

# outer frame (top and left edges)
shapes.append(dict(type="line", xref="paper", yref="paper", x0=0, x1=1, y0=1 - 1 / FH, y1=1 - 1 / FH,
                   line=dict(color="black", width=2)))
shapes.append(dict(type="line", xref="paper", yref="paper", x0=1 / FW, x1=1 / FW, y0=0, y1=1,
                   line=dict(color="black", width=2)))

layout["annotations"] = annotations
layout["shapes"] = shapes
fig.update_layout(**layout)
fig.write_html("out.html")
